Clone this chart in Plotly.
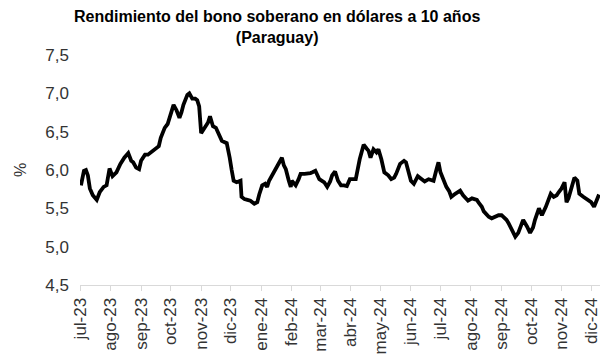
import plotly.graph_objects as go

dates = [
"2023-07-02","2023-07-05","2023-07-07","2023-07-09","2023-07-11","2023-07-14","2023-07-18","2023-07-21","2023-07-25","2023-07-28",
"2023-07-31","2023-08-03","2023-08-07","2023-08-11","2023-08-15","2023-08-19","2023-08-22","2023-08-24","2023-08-27","2023-08-30",
"2023-09-01","2023-09-05","2023-09-08","2023-09-12","2023-09-16","2023-09-19","2023-09-21","2023-09-25","2023-09-28","2023-10-01",
"2023-10-04","2023-10-07","2023-10-10","2023-10-12","2023-10-14","2023-10-18","2023-10-20","2023-10-23","2023-10-26","2023-10-28",
"2023-10-30","2023-11-01","2023-11-05","2023-11-08","2023-11-10","2023-11-12","2023-11-13","2023-11-16","2023-11-18","2023-11-22",
"2023-11-27","2023-11-29","2023-11-30","2023-12-02","2023-12-04","2023-12-07","2023-12-11","2023-12-12","2023-12-15","2023-12-18",
"2023-12-21","2023-12-25","2023-12-28","2023-12-30","2024-01-02","2024-01-05","2024-01-07","2024-01-09","2024-01-12","2024-01-16",
"2024-01-19","2024-01-22","2024-01-24","2024-01-26","2024-01-29","2024-01-31","2024-02-01","2024-02-05","2024-02-08","2024-02-10",
"2024-02-14","2024-02-17","2024-02-20","2024-02-22","2024-02-25","2024-02-29","2024-03-02","2024-03-05","2024-03-08","2024-03-11",
"2024-03-13","2024-03-16","2024-03-19","2024-03-22","2024-03-25","2024-03-28","2024-03-31","2024-04-03","2024-04-06","2024-04-10",
"2024-04-12","2024-04-14","2024-04-17","2024-04-19","2024-04-21","2024-04-24","2024-04-27","2024-04-29","2024-05-02","2024-05-05",
"2024-05-09","2024-05-12","2024-05-15","2024-05-17","2024-05-21","2024-05-25","2024-05-27","2024-05-29","2024-06-01","2024-06-04",
"2024-06-08","2024-06-12","2024-06-15","2024-06-19","2024-06-24","2024-06-27","2024-06-29","2024-07-01","2024-07-04","2024-07-07",
"2024-07-10","2024-07-12","2024-07-16","2024-07-19","2024-07-21","2024-07-24","2024-07-27","2024-07-29","2024-08-02","2024-08-04",
"2024-08-07","2024-08-09","2024-08-12","2024-08-14","2024-08-17","2024-08-19","2024-08-22","2024-08-24","2024-08-27","2024-08-29",
"2024-09-01","2024-09-03","2024-09-06","2024-09-08","2024-09-11","2024-09-14","2024-09-15","2024-09-18","2024-09-21","2024-09-23",
"2024-09-27","2024-09-30","2024-10-03","2024-10-05","2024-10-09","2024-10-12","2024-10-16","2024-10-18","2024-10-21","2024-10-24",
"2024-10-27","2024-10-29","2024-11-01","2024-11-04","2024-11-06","2024-11-08","2024-11-12","2024-11-14","2024-11-17","2024-11-19",
"2024-11-23","2024-11-27","2024-12-01","2024-12-04","2024-12-06","2024-12-09",
]

yields = [
5.80,5.99,6.00,5.93,5.76,5.67,5.61,5.71,5.78,5.80,
6.02,5.92,5.97,6.08,6.16,6.22,6.12,6.10,6.03,6.01,
6.12,6.20,6.20,6.24,6.28,6.31,6.42,6.55,6.60,6.72,
6.85,6.78,6.68,6.75,6.85,6.98,7.00,6.93,6.93,6.91,
6.83,6.48,6.55,6.62,6.70,6.62,6.57,6.55,6.50,6.38,
6.35,6.25,6.16,6.00,5.86,5.84,5.86,5.65,5.62,5.61,
5.60,5.56,5.58,5.68,5.80,5.82,5.78,5.86,5.93,6.01,
6.07,6.16,6.06,6.01,5.86,5.78,5.86,5.80,5.88,5.95,
5.95,5.95,5.96,5.97,5.99,5.88,5.86,5.84,5.78,5.85,
5.93,5.98,5.86,5.80,5.80,5.79,5.88,5.88,5.88,6.14,
6.22,6.33,6.28,6.25,6.16,6.27,6.23,6.27,6.14,5.97,
5.93,5.88,5.90,5.95,6.08,6.12,6.10,6.01,5.86,5.82,
5.92,5.88,5.85,5.88,5.86,6.01,6.10,5.97,5.86,5.78,
5.72,5.65,5.69,5.72,5.73,5.67,5.63,5.60,5.63,5.62,
5.61,5.57,5.52,5.46,5.41,5.39,5.37,5.38,5.40,5.41,
5.41,5.39,5.35,5.31,5.22,5.16,5.13,5.18,5.27,5.35,
5.26,5.18,5.25,5.35,5.50,5.41,5.52,5.60,5.69,5.65,
5.67,5.71,5.76,5.84,5.58,5.63,5.80,5.90,5.86,5.69,
5.65,5.61,5.58,5.52,5.58,5.68,
]

tick_dates = ["2023-07-01","2023-08-01","2023-09-01","2023-10-01","2023-11-01","2023-12-01",
              "2024-01-01","2024-02-01","2024-03-01","2024-04-01","2024-05-01","2024-06-01",
              "2024-07-01","2024-08-01","2024-09-01","2024-10-01","2024-11-01","2024-12-01"]
tick_labels = ["jul-23","ago-23","sep-23","oct-23","nov-23","dic-23",
               "ene-24","feb-24","mar-24","abr-24","may-24","jun-24",
               "jul-24","ago-24","sep-24","oct-24","nov-24","dic-24"]

title_lines = ["Rendimiento del bono soberano en dólares a 10 años", "(Paraguay)"]
y_title = "%"

fig = go.Figure()
fig.add_trace(go.Scatter(x=dates, y=yields, mode="lines",
                         line=dict(color="black", width=3.8), showlegend=False))

font_family = "Liberation Sans, Arial, sans-serif"
fig.update_layout(
    width=610, height=358,
    margin=dict(l=71, r=18, t=47, b=77),
    paper_bgcolor="white", plot_bgcolor="white",
    separators=",.",
    font=dict(family=font_family, size=17, color="#333333"),
    xaxis=dict(type="date", range=["2023-07-01", "2024-12-10"],
               tickvals=tick_dates, ticktext=tick_labels, tickangle=-90,
               showgrid=False, zeroline=False, showline=True, linecolor="#d9d9d9", linewidth=1,
               ticks="outside", ticklen=5, tickcolor="#d9d9d9",
               tickfont=dict(size=17, color="#333333")),
    yaxis=dict(range=[4.5, 7.5], dtick=0.5, tickformat=".1f",
               showgrid=False, zeroline=False, showline=False, ticks="",
               ticklabelstandoff=10,
               tickfont=dict(size=17, color="#333333"),
               title=dict(text=y_title, font=dict(size=16, color="#333333"), standoff=14)),
)

fig.add_annotation(
    text="<b>" + "<br>".join(title_lines) + "</b>",
    xref="paper", yref="paper", x=(268 - 71) / 521, y=1,
    xanchor="center", yanchor="bottom", yshift=8, showarrow=False, borderpad=0,
    align="center", font=dict(family=font_family, size=16, color="black"),
)

fig.write_html("out.html")
